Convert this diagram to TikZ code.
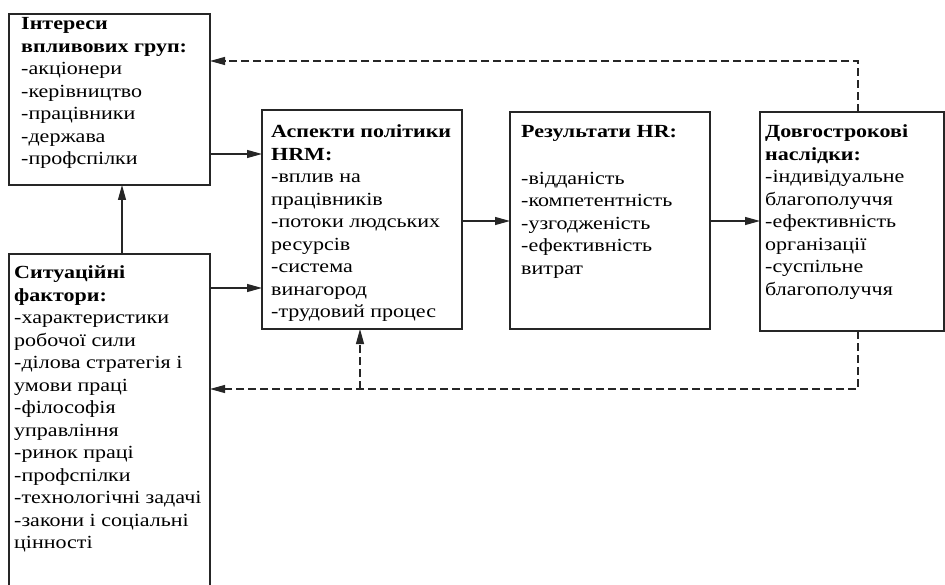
\documentclass[tikz,border=0pt]{standalone}
\usepackage{fontspec}
\setmainfont{Liberation Serif}[FakeStretch=1.19]
\usetikzlibrary{arrows.meta,calc}
\begin{document}
\begin{tikzpicture}[x=1pt,y=-1pt,
  box/.style={draw=black!85, line width=1.1pt, anchor=north west, inner sep=0pt, outer sep=0pt},
  txt/.style={anchor=north west, align=left, inner sep=0pt, font=\fontsize{18.5}{22.5}\selectfont},
  arr/.style={draw=black!85, line width=1.1pt, -{Triangle[length=15pt,width=8pt]}},
  darr/.style={arr, dash pattern=on 8pt off 4pt}]
\clip (0,0) rectangle (945,585);
\fill[white] (0,0) rectangle (945,585);
% boxes
\node[box, minimum width=201pt, minimum height=171pt] (b1) at (9,14) {};
\node[box, minimum width=201pt, minimum height=350pt] (b2) at (9,254) {};
\node[box, minimum width=200pt, minimum height=219pt] (b3) at (262,110) {};
\node[box, minimum width=200pt, minimum height=217pt] (b4) at (510,112) {};
\node[box, minimum width=184pt, minimum height=219pt] (b5) at (760,112) {};
% texts
\node[txt] (t1) at (21,17.5) {\textbf{Інтереси}\\\textbf{впливових груп:}\\-акціонери\\-керівництво\\-працівники\\-держава\\-профспілки};
\node[txt] (t2) at (14,265.5) {\textbf{Ситуаційні}\\\textbf{фактори:}\\-характеристики\\робочої сили\\-ділова стратегія і\\умови праці\\-філософія\\управління\\-ринок праці\\-профспілки\\-технологічні задачі\\-закони і соціальні\\цінності};
\node[txt] (t3) at (271,124.5) {\textbf{Аспекти політики}\\\textbf{HRM:}\\-вплив на\\працівників\\-потоки людських\\ресурсів\\-система\\винагород\\-трудовий процес};
\node[txt] (t4) at (521,125.5) {\textbf{Результати HR:}\\[24pt]-відданість\\-компетентність\\-узгодженість\\-ефективність\\витрат};
\node[txt] (t5) at (765,124.5) {\textbf{Довгострокові}\\\textbf{наслідки:}\\-індивідуальне\\благополуччя\\-ефективність\\організації\\-суспільне\\благополуччя};
% helper coordinates
\coordinate (ctop) at (858,61);
\coordinate (cbot) at (858,389);
\coordinate (cjoin) at (360,389);
% solid connectors
\draw[arr] ([xshift=12.5pt]b2.north) -- ([xshift=12.5pt]b1.south);
\draw[arr] (b1.east |- 0,154) -- (b3.west |- 0,154);
\draw[arr] (b2.east |- 0,288) -- (b3.west |- 0,288);
\draw[arr] (b3.east |- 0,221) -- (b4.west |- 0,221);
\draw[arr] (b4.east |- 0,221) -- (b5.west |- 0,221);
% dashed feedback
\draw[darr] (b5.north -| ctop) -- (ctop) -- (b1.east |- ctop);
\draw[darr] (b5.south -| cbot) -- (cbot) -- (b2.east |- cbot);
\draw[darr] (cjoin) -- (b3.south -| cjoin);
\end{tikzpicture}
\end{document}
